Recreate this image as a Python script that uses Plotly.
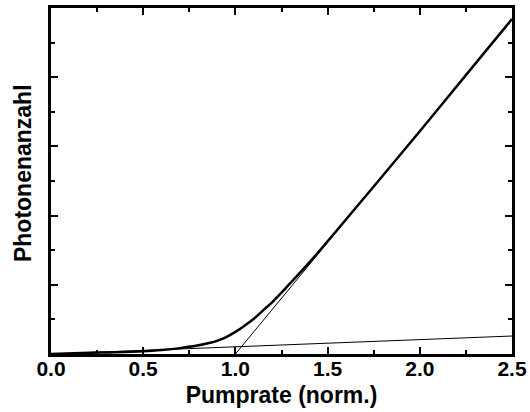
import plotly.graph_objects as go

# Thick curve: photon number vs. normalized pump rate
pump = [0.0, 0.25, 0.5, 0.6, 0.7, 0.8, 0.85, 0.9, 0.95, 1.0, 1.05, 1.1, 1.15, 1.2,
        1.3, 1.4, 1.5, 1.75, 2.0, 2.25, 2.5]
photons = [0.0, 0.02, 0.04, 0.058, 0.085, 0.125, 0.155, 0.19, 0.245, 0.32, 0.41, 0.51,
           0.63, 0.75, 1.03, 1.32, 1.63, 2.42, 3.22, 4.03, 4.84]

# Thin asymptote above threshold
thr_x = [1.0, 2.5]
thr_y = [0.0, 4.83]

# Thin spontaneous-emission line
spont_x = [0.0, 2.5]
spont_y = [0.0, 0.26]

# Axis tick labels and titles
x_tickvals = [0.0, 0.5, 1.0, 1.5, 2.0, 2.5]
x_ticktext = ["0.0", "0.5", "1.0", "1.5", "2.0", "2.5"]
x_title = "Pumprate (norm.)"
y_title = "Photonenanzahl"

fig = go.Figure()
fig.add_trace(go.Scatter(x=spont_x, y=spont_y, mode="lines",
                         line=dict(color="black", width=1), showlegend=False))
fig.add_trace(go.Scatter(x=thr_x, y=thr_y, mode="lines",
                         line=dict(color="black", width=1), showlegend=False))
fig.add_trace(go.Scatter(x=pump, y=photons, mode="lines",
                         line=dict(color="black", width=2.5, shape="spline", smoothing=1.2),
                         showlegend=False))

font_family = "Liberation Sans, Arial, sans-serif"
fig.update_layout(
    width=530, height=412,
    margin=dict(l=51, r=18, t=8, b=58),
    plot_bgcolor="white", paper_bgcolor="white",
    font=dict(family=font_family, color="black"),
    xaxis=dict(
        range=[0, 2.5], automargin=False,
        tickvals=x_tickvals, ticktext=["<b>" + t + "</b>" for t in x_ticktext],
        ticks="inside", ticklen=7, tickwidth=2, tickcolor="black",
        ticklabelstandoff=-6,
        minor=dict(dtick=0.25, tick0=0, ticks="inside", ticklen=4, tickwidth=2, tickcolor="black"),
        showline=True, linewidth=2.5, linecolor="black", mirror="allticks",
        showgrid=False, zeroline=False,
        tickfont=dict(size=21, family=font_family),
        title=dict(text="<b>" + x_title + "</b>", font=dict(size=23, family=font_family), standoff=8),
    ),
    yaxis=dict(
        range=[0, 5], dtick=1, tick0=0, automargin=False,
        ticks="inside", ticklen=7, tickwidth=2, tickcolor="black",
        minor=dict(dtick=0.5, ticks="inside", ticklen=4, tickwidth=2, tickcolor="black"),
        showline=True, linewidth=2.5, linecolor="black", mirror="allticks",
        showgrid=False, zeroline=False, showticklabels=False,
    ),
    annotations=[dict(
        text="<b>" + y_title + "</b>", textangle=-90,
        xref="paper", yref="paper", x=-0.0607, y=0.523,
        xanchor="center", yanchor="middle", showarrow=False,
        font=dict(size=23, family=font_family, color="black"),
    )],
)

fig.write_html("out.html")
